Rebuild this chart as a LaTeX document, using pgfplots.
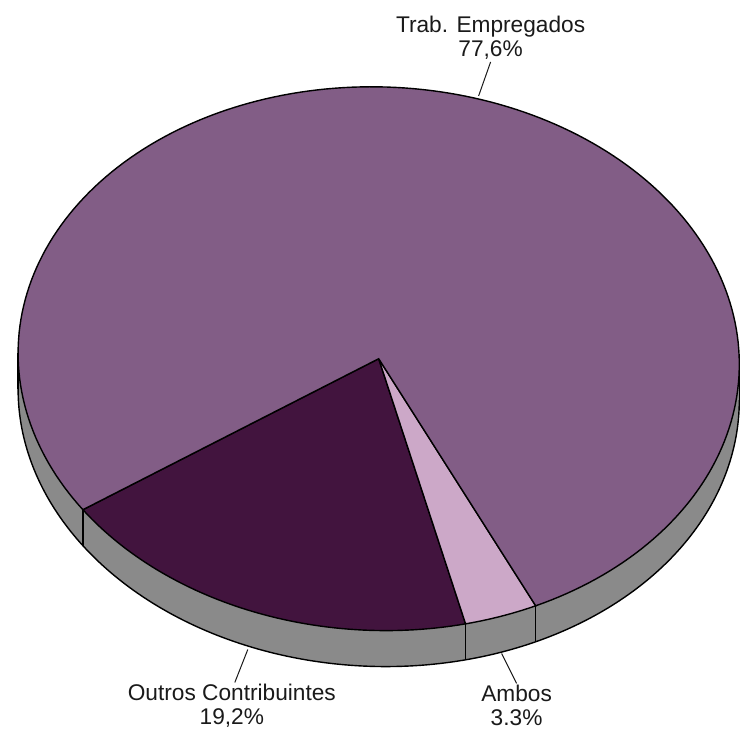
\documentclass[border=0pt]{standalone}
\usepackage{fontspec}
\setmainfont{Liberation Sans}
\usepackage{pgfplots}
\usepackage{pgfplotstable}
\pgfplotsset{compat=1.18}

\definecolor{trab}{HTML}{825D86}
\definecolor{outros}{HTML}{42143E}
\definecolor{ambos}{HTML}{CCA8C8}
\definecolor{side}{HTML}{8A8A8A}
\definecolor{ink}{HTML}{1A1A1A}

% shares in percent, in drawing order (counter-clockwise)
\pgfplotstableread[col sep=comma]{
label,value
Outros Contribuintes,19.2
Ambos,3.3
Trab. Empregados,77.6
}\shares

% pie geometry (axis units = pixels)
\def\cx{379}\def\cy{372}
\def\ra{361}\def\rb{272}
\def\tilt{-2}\def\depth{36}
\def\start{216.4}
\newcommand\EX[1]{\cx+\ra*cos(#1)*cos(\tilt)-\rb*sin(#1)*sin(\tilt)}
\newcommand\EY[1]{\cy+\ra*cos(#1)*sin(\tilt)+\rb*sin(#1)*cos(\tilt)}

\pgfplotstablegetelem{0}{value}\of\shares \let\va\pgfplotsretval
\pgfplotstablegetelem{1}{value}\of\shares \let\vb\pgfplotsretval
\pgfplotstablegetelem{2}{value}\of\shares \let\vc\pgfplotsretval
\pgfmathsetmacro\tot{\va+\vb+\vc}
\pgfmathsetmacro\aA{\start}
\pgfmathsetmacro\aB{\aA+\va/\tot*360}
\pgfmathsetmacro\aC{\aB+\vb/\tot*360}
\pgfmathsetmacro\aD{\aC+\vc/\tot*360}

% silhouette points of the rim
\pgfmathsetmacro\tR{atan(-\rb/\ra*tan(\tilt))}
\pgfmathsetmacro\tL{\tR+180}
\pgfmathsetmacro\tRR{\tR+360}
\pgfmathsetmacro\xL{\EX{\tL}}\pgfmathsetmacro\yL{\EY{\tL}}
\pgfmathsetmacro\xR{\EX{\tR}}\pgfmathsetmacro\yR{\EY{\tR}}
\pgfmathsetmacro\yLb{\yL-\depth}\pgfmathsetmacro\yRb{\yR-\depth}

% slice borders on the rim
\pgfmathsetmacro\xa{\EX{\aA}}\pgfmathsetmacro\ya{\EY{\aA}}\pgfmathsetmacro\yab{\ya-\depth}
\pgfmathsetmacro\xb{\EX{\aB}}\pgfmathsetmacro\yb{\EY{\aB}}\pgfmathsetmacro\ybb{\yb-\depth}
\pgfmathsetmacro\xc{\EX{\aC}}\pgfmathsetmacro\yc{\EY{\aC}}\pgfmathsetmacro\ycb{\yc-\depth}

\newcommand\lab{\fontsize{11.35}{12.5}\selectfont\color{ink}}

\begin{document}
\begin{tikzpicture}
\begin{axis}[
  width=370pt, height=365.5pt, scale only axis,
  xmin=0, xmax=740, ymin=0, ymax=731,
  axis lines=none, ticks=none, clip=false,
]
\path (rel axis cs:0,0) rectangle (rel axis cs:1,1);

% rim of the pie
\addplot[fill=side, draw=none, domain=0:360, samples=180] ({\EX{x}},{\EY{x}-\depth});
\addplot[fill=side, draw=none] coordinates {(\xL,\yL) (\xR,\yR) (\xR,\yRb) (\xL,\yLb)};
\addplot[draw=black, line width=0.7pt, domain=\tL:\tRR, samples=180] ({\EX{x}},{\EY{x}-\depth});
\addplot[draw=black, line width=0.7pt] coordinates {(\xL,\yL) (\xL,\yLb)};
\addplot[draw=black, line width=0.7pt] coordinates {(\xR,\yR) (\xR,\yRb)};

% top faces of the slices
\addplot[fill=outros, draw=black, line width=0.7pt, domain=\aA:\aB, samples=60]
  ({\EX{x}},{\EY{x}}) -- (\cx,\cy) -- cycle;
\addplot[fill=ambos, draw=black, line width=0.7pt, domain=\aB:\aC, samples=20]
  ({\EX{x}},{\EY{x}}) -- (\cx,\cy) -- cycle;
\addplot[fill=trab, draw=black, line width=0.7pt, domain=\aC:\aD, samples=200]
  ({\EX{x}},{\EY{x}}) -- (\cx,\cy) -- cycle;

% slice borders on the rim
\addplot[draw=black, line width=0.8pt] coordinates {(\xa,\ya) (\xa,\yab)};
\addplot[draw=black, line width=0.8pt] coordinates {(\xb,\yb) (\xb,\ybb)};
\addplot[draw=black, line width=0.8pt] coordinates {(\xc,\yc) (\xc,\ycb)};

% leader lines
\addplot[draw=ink, line width=0.5pt] coordinates {(479,635) (491,669)};
\addplot[draw=ink, line width=0.5pt] coordinates {(248,81) (235,48)};
\addplot[draw=ink, line width=0.5pt] coordinates {(502,77) (517,47)};

% labels
\node[anchor=base, font=\lab, inner sep=0pt] at (491,698) {Trab. Empregados};
\node[anchor=base, font=\lab, inner sep=0pt] at (491,674) {77,6\%};
\node[anchor=base, font=\lab, inner sep=0pt] at (232,30) {Outros Contribuintes};
\node[anchor=base, font=\lab, inner sep=0pt] at (232,6) {19,2\%};
\node[anchor=base, font=\lab, inner sep=0pt] at (517,29) {Ambos};
\node[anchor=base, font=\lab, inner sep=0pt] at (517,5) {3.3\%};
\end{axis}
\end{tikzpicture}
\end{document}
